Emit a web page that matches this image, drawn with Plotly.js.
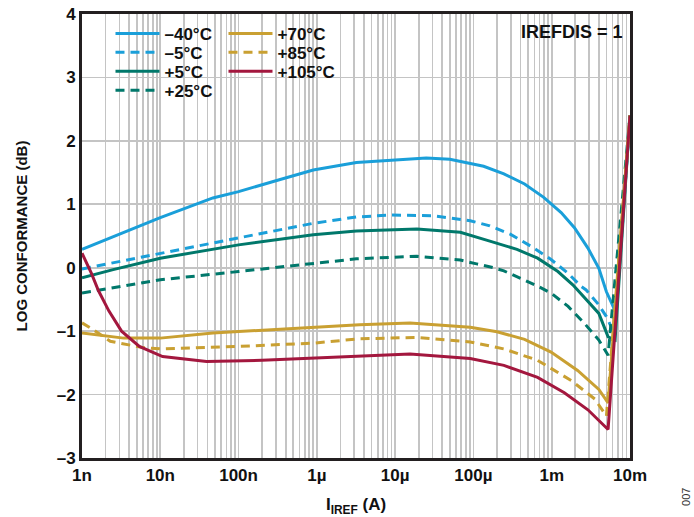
<!DOCTYPE html>
<html>
<head>
<meta charset="utf-8">
<script src="https://cdn.plot.ly/plotly-3.0.1.min.js"></script>
<style>html,body{margin:0;padding:0;background:#fff;}#chart{width:694px;height:517px;}</style>
</head>
<body>
<div id="chart"></div>
<script>
// ---- data (I_IREF in amps, log conformance in dB) ----
const xM40 = [1e-9, 2.5e-9, 1e-8, 4.7e-8, 1e-7, 3.4e-7, 9e-7, 3.2e-6, 7e-6, 2.5e-5, 5e-5, 9.1e-5, 1.35e-4, 2.45e-4, 4.5e-4, 7.9e-4, 1.32e-3, 1.95e-3, 2.9e-3, 4e-3, 5e-3, 6.5e-3, 1e-2];
const yM40 = [0.29, 0.49, 0.79, 1.10, 1.20, 1.39, 1.54, 1.66, 1.69, 1.73, 1.71, 1.65, 1.60, 1.48, 1.32, 1.11, 0.87, 0.63, 0.31, -0.01, -0.38, -0.69, 2.4];

const xM5 = [1e-9, 1e-8, 1e-7, 9e-7, 3.2e-6, 9e-6, 3e-5, 9.1e-5, 1.62e-4, 2.95e-4, 5.4e-4, 9.8e-4, 1.62e-3, 2.4e-3, 2.75e-3, 3.9e-3, 5e-3, 5.9e-3, 6.4e-3, 1e-2];
const yM5 = [-0.02, 0.23, 0.47, 0.70, 0.80, 0.83, 0.82, 0.74, 0.66, 0.53, 0.34, 0.13, -0.09, -0.30, -0.35, -0.57, -0.77, -0.96, -1.06, 2.4];

const xP5 = [1e-9, 2.5e-9, 1e-8, 1e-7, 9e-7, 3.2e-6, 1.9e-5, 6.8e-5, 1.62e-4, 3.6e-4, 6.6e-4, 1.2e-3, 1.86e-3, 2.14e-3, 4e-3, 5.25e-3, 6.45e-3, 1e-2];
const yP5 = [-0.16, -0.03, 0.15, 0.36, 0.52, 0.58, 0.61, 0.56, 0.42, 0.29, 0.15, -0.06, -0.27, -0.35, -0.72, -1.09, -1.14, 2.4];

const xP25 = [1e-9, 1e-8, 1e-7, 9e-7, 3.2e-6, 1.9e-5, 6.8e-5, 1.1e-4, 1.8e-4, 2.45e-4, 6.6e-4, 9.8e-4, 1.62e-3, 2.63e-3, 4e-3, 5.25e-3, 1e-2];
const yP25 = [-0.40, -0.19, -0.06, 0.07, 0.14, 0.18, 0.12, 0.06, 0.0, -0.05, -0.29, -0.40, -0.61, -0.88, -1.14, -1.38, 2.4];

const xP70 = [1e-9, 3.4e-9, 1e-8, 4.7e-8, 3.4e-7, 3.5e-6, 1.55e-5, 9.1e-5, 2e-4, 4.5e-4, 9.8e-4, 2.14e-3, 4e-3, 5.25e-3, 1e-2];
const yP70 = [-1.03, -1.11, -1.11, -1.03, -0.97, -0.90, -0.87, -0.94, -1.01, -1.13, -1.33, -1.62, -1.92, -2.13, 2.4];

const xP85 = [1e-9, 1.4e-9, 2.3e-9, 6e-9, 1e-8, 1e-7, 9e-7, 3.5e-6, 1.9e-5, 9.1e-5, 2.45e-4, 6.6e-4, 1.78e-3, 3.55e-3, 5e-3, 1e-2];
const yP85 = [-0.87, -0.98, -1.16, -1.26, -1.28, -1.24, -1.19, -1.12, -1.10, -1.17, -1.28, -1.46, -1.78, -2.07, -2.34, 2.4];

const xP105 = [1e-9, 1.32e-9, 1.62e-9, 2.2e-9, 3.2e-9, 5.4e-9, 1.07e-8, 3.9e-8, 2e-7, 1e-6, 3.5e-6, 1.55e-5, 9.1e-5, 2.45e-4, 6.6e-4, 1.45e-3, 2.9e-3, 5.25e-3, 1e-2];
const yP105 = [0.23, -0.09, -0.36, -0.68, -1.0, -1.24, -1.40, -1.48, -1.46, -1.42, -1.39, -1.36, -1.43, -1.54, -1.73, -1.97, -2.24, -2.55, 2.4];

const seriesNames = ['\u201340\u00B0C', '\u20135\u00B0C', '+5\u00B0C', '+25\u00B0C', '+70\u00B0C', '+85\u00B0C', '+105\u00B0C'];

const decadeVals = [1e-9, 1e-8, 1e-7, 1e-6, 1e-5, 1e-4, 1e-3, 1e-2];
const decadeLabels = ['1n', '10n', '100n', '1\u00B5', '10\u00B5', '100\u00B5', '1m', '10m'];
const yTickVals = [-3, -2, -1, 0, 1, 2, 3, 4];
const yTickLabels = ['\u20133', '\u20132', '\u20131', '0', '1', '2', '3', '4'];

// ---- styling ----
const BLUE = '#1a9fd9', TEAL = '#00786b', GOLD = '#c9a032', RED = '#a3173e';
const FONT = 'Arial, "Liberation Sans", sans-serif';
const DASH = '9px,6px';

// gridline positions for log axis (1..9 per decade)
const xTickVals = [], xTickText = [];
for (let i = 0; i < decadeVals.length; i++) {
  const d = decadeVals[i];
  xTickVals.push(d); xTickText.push(decadeLabels[i]);
  if (i < decadeVals.length - 1) {
    for (let m = 2; m <= 9; m++) { xTickVals.push(m * d); xTickText.push(''); }
  }
}

function tr(x, y, name, color, dash, legend) {
  return {x: x, y: y, name: name, type: 'scatter', mode: 'lines',
    line: {color: color, width: 3, dash: dash}, legend: legend, hoverinfo: 'skip'};
}

// legend rows: row1 (-40, +70), row2 (-5, +85), row3 (+5, +105), row4 (+25)
const traces = [
  tr(xM40, yM40, seriesNames[0], BLUE, 'solid', 'legend'),
  tr(xM5, yM5, seriesNames[1], BLUE, DASH, 'legend2'),
  tr(xP5, yP5, seriesNames[2], TEAL, 'solid', 'legend3'),
  tr(xP25, yP25, seriesNames[3], TEAL, DASH, 'legend4'),
  tr(xP70, yP70, seriesNames[4], GOLD, 'solid', 'legend'),
  tr(xP85, yP85, seriesNames[5], GOLD, DASH, 'legend2'),
  tr(xP105, yP105, seriesNames[6], RED, 'solid', 'legend3')
];

const legFont = {family: FONT, size: 17, color: '#111', weight: 700};
function leg(y) {
  return {x: 0.052, y: y, xanchor: 'left', yanchor: 'middle', orientation: 'h',
    bgcolor: 'rgba(0,0,0,0)', font: legFont, itemwidth: 44, entrywidth: 54,
    entrywidthmode: 'pixels', traceorder: 'normal'};
}

const layout = {
  width: 694, height: 517,
  margin: {l: 82, r: 64, t: 14, b: 59},
  paper_bgcolor: '#fff', plot_bgcolor: '#fff',
  font: {family: FONT, color: '#111'},
  showlegend: true,
  legend: leg(0.955),
  legend2: leg(0.913),
  legend3: leg(0.870),
  legend4: leg(0.827),
  xaxis: {
    type: 'log', range: [-9, -2],
    tickmode: 'array', tickvals: xTickVals, ticktext: xTickText,
    ticks: '', showgrid: true, gridcolor: '#c4c4c4', gridwidth: 1.6,
    showline: true, linecolor: '#231f20', linewidth: 3, mirror: true,
    tickfont: {family: FONT, size: 17, color: '#111', weight: 700},
    title: {text: 'I<sub>IREF</sub> (A)', font: {family: FONT, size: 17, color: '#111', weight: 700}, standoff: 17},
    zeroline: false
  },
  yaxis: {
    range: [-3, 4],
    tickmode: 'array', tickvals: yTickVals, ticktext: yTickLabels,
    ticks: '', showgrid: true, gridcolor: '#c4c4c4', gridwidth: 1.6,
    showline: true, linecolor: '#231f20', linewidth: 3, mirror: true,
    tickfont: {family: FONT, size: 17, color: '#111', weight: 700},
    title: {text: 'LOG CONFORMANCE (dB)', font: {family: FONT, size: 15, color: '#111', weight: 700}, standoff: 26},
    zeroline: false
  },
  shapes: [
    {type: 'rect', xref: 'paper', yref: 'paper', x0: 0.051, x1: 0.484, y0: 0.795, y1: 0.993,
      fillcolor: '#fff', line: {width: 0}, layer: 'between'},
    {type: 'rect', xref: 'paper', yref: 'paper', x0: 0.79, x1: 0.997, y0: 0.926, y1: 0.997,
      fillcolor: '#fff', line: {width: 0}, layer: 'between'}
  ],
  annotations: [
    {xref: 'paper', yref: 'paper', x: 0.894, y: 0.959, text: 'IREFDIS = 1', showarrow: false,
      font: {family: FONT, size: 18, color: '#111', weight: 700}, xanchor: 'center', yanchor: 'middle'},
    {xref: 'paper', yref: 'paper', x: 1.102, y: -0.088, text: '007', showarrow: false, textangle: -90,
      font: {family: FONT, size: 11, color: '#333'}, xanchor: 'center', yanchor: 'middle'}
  ]
};

Plotly.newPlot('chart', traces, layout, {displayModeBar: false, staticPlot: true});
</script>
</body>
</html>
